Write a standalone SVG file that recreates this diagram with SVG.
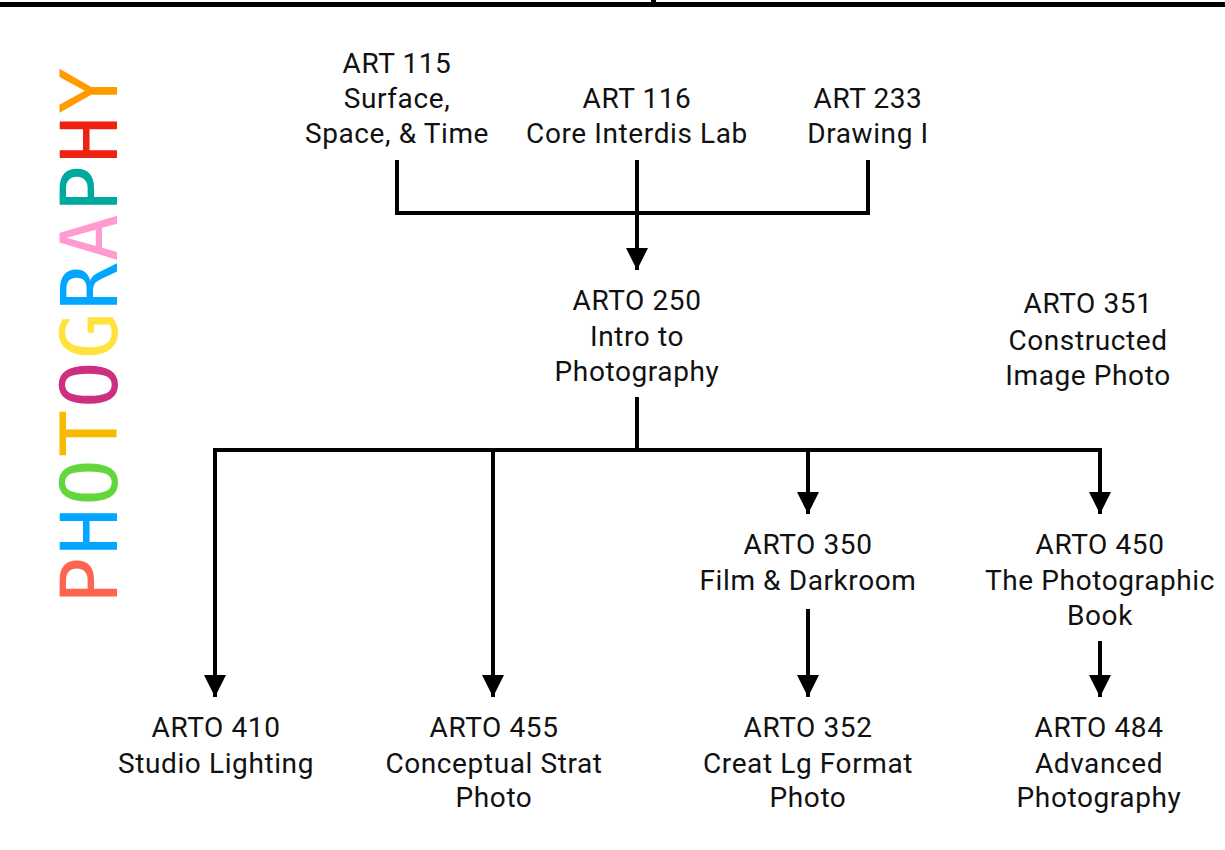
<svg xmlns="http://www.w3.org/2000/svg" width="1225" height="850" viewBox="0 0 1225 850">
<defs>
<style>
.t{font-family:Roboto,"Liberation Sans",sans-serif;font-size:28px;letter-spacing:0.6px;fill:#111;text-anchor:middle}
.c{fill:none;stroke:#000;stroke-width:4;stroke-linejoin:miter}
.v{font-family:"DejaVu Sans Mono","Liberation Mono",monospace;font-size:78px;letter-spacing:2px}
</style>
<marker id="ah" markerUnits="userSpaceOnUse" markerWidth="22" markerHeight="22" refX="21" refY="10.5" orient="auto" viewBox="0 0 21 21">
<path d="M0,0 L21,10.5 L0,21 Z" fill="#000"/>
</marker>
</defs>
<rect width="1225" height="850" fill="#fff"/>
<g id="topbar">
<rect x="0" y="2" width="1225" height="5" fill="#000"/>
<rect x="651" y="0" width="5" height="3" fill="#000"/>
</g>
<g id="title">
<text class="v" transform="translate(117,604) rotate(-90)"><tspan fill="#FF6450">P</tspan><tspan fill="#00A6FF">H</tspan><tspan fill="#62D73C">O</tspan><tspan fill="#F7BA00">T</tspan><tspan fill="#CC2F7D">O</tspan><tspan fill="#FFE23C">G</tspan><tspan fill="#00A6FF">R</tspan><tspan fill="#FF9BCF">A</tspan><tspan fill="#00A99D">P</tspan><tspan fill="#EE2211">H</tspan><tspan fill="#FF9A00">Y</tspan></text>
</g>
<g id="connectors">
<path class="c" d="M397,160 V213 H868 V160"/>
<path class="c" d="M637,160 V270" marker-end="url(#ah)"/>
<path class="c" d="M637,397 V450"/>
<path class="c" d="M215,450 H1100" stroke-linecap="square"/>
<path class="c" d="M215,450 V697" marker-end="url(#ah)"/>
<path class="c" d="M493,450 V697" marker-end="url(#ah)"/>
<path class="c" d="M808,450 V514" marker-end="url(#ah)"/>
<path class="c" d="M1100,450 V514" marker-end="url(#ah)"/>
<path class="c" d="M808,609 V697" marker-end="url(#ah)"/>
<path class="c" d="M1100,641 V697" marker-end="url(#ah)"/>
</g>
<g id="art115"><text class="t" x="397" y="73">ART 115</text><text class="t" x="397" y="108">Surface,</text><text class="t" x="397" y="143">Space, &amp; Time</text></g>
<g id="art116"><text class="t" x="637" y="108">ART 116</text><text class="t" x="637" y="143">Core Interdis Lab</text></g>
<g id="art233"><text class="t" x="868" y="108">ART 233</text><text class="t" x="868" y="143">Drawing I</text></g>
<g id="arto250"><text class="t" x="637" y="310">ARTO 250</text><text class="t" x="637" y="346">Intro to</text><text class="t" x="637" y="381">Photography</text></g>
<g id="arto351"><text class="t" x="1088" y="313">ARTO 351</text><text class="t" x="1088" y="350">Constructed</text><text class="t" x="1088" y="385">Image Photo</text></g>
<g id="arto350"><text class="t" x="808" y="554">ARTO 350</text><text class="t" x="808" y="590">Film &amp; Darkroom</text></g>
<g id="arto450"><text class="t" x="1100" y="554">ARTO 450</text><text class="t" x="1100" y="590">The Photographic</text><text class="t" x="1100" y="625">Book</text></g>
<g id="arto410"><text class="t" x="216" y="737">ARTO 410</text><text class="t" x="216" y="773">Studio Lighting</text></g>
<g id="arto455"><text class="t" x="494" y="737">ARTO 455</text><text class="t" x="494" y="773">Conceptual Strat</text><text class="t" x="494" y="807">Photo</text></g>
<g id="arto352"><text class="t" x="808" y="737">ARTO 352</text><text class="t" x="808" y="773">Creat Lg Format</text><text class="t" x="808" y="807">Photo</text></g>
<g id="arto484"><text class="t" x="1099" y="737">ARTO 484</text><text class="t" x="1099" y="773">Advanced</text><text class="t" x="1099" y="807">Photography</text></g>
</svg>
